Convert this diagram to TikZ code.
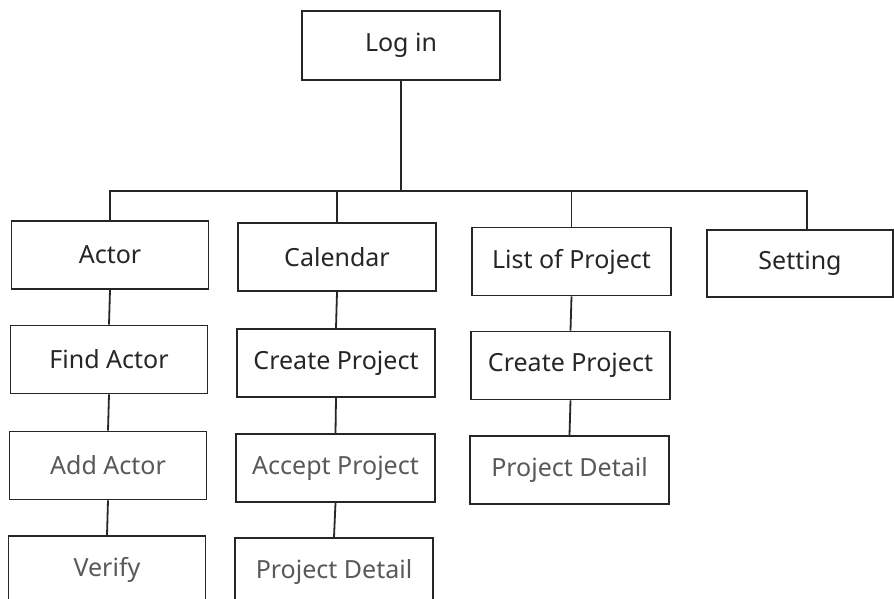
\documentclass[tikz,border=0pt]{standalone}
\usepackage{fontspec}
\setmainfont{Noto Sans}
\begin{document}
\begin{tikzpicture}[x=1pt,y=-1pt,
  box/.style={draw=black!85, line width=1.8pt, minimum width=197pt, minimum height=68pt,
    inner sep=0pt, font=\fontsize{25}{28}\selectfont, text=black!85},
  faint/.style={text=black!65},
  link/.style={draw=black!85, line width=1.8pt}]
\useasboundingbox (0,0) rectangle (894,599);
\clip (0,0) rectangle (894,599);
\fill[white] (0,0) rectangle (894,599);
% nodes
\node[box, minimum width=198pt, minimum height=69pt] (login) at (401,45.5) {Log in};
\node[box] (actor) at (110,255) {Actor};
\node[box, minimum width=198pt] (calendar) at (337,257) {Calendar};
\node[box, minimum width=199pt] (list) at (571.5,261.5) {List of Project};
\node[box, minimum width=186pt, minimum height=67pt] (setting) at (800,263.5) {Setting};
\node[box] (find) at (109,359.5) {Find Actor};
\node[box, minimum width=198pt] (create1) at (336,363) {Create Project};
\node[box, minimum width=199pt] (create2) at (570.5,365.5) {Create Project};
\node[box, faint] (add) at (108,465.5) {Add Actor};
\node[box, faint, minimum width=199pt] (accept) at (335.5,468) {Accept Project};
\node[box, faint, minimum width=199pt] (detail2) at (569.5,470) {Project Detail};
\node[box, faint] (verify) at (107,570) {Verify};
\node[box, faint, minimum width=198pt] (detail1) at (334,572) {Project Detail};
\coordinate (bus) at (0,191);
% connectors
\draw[link] (login.south) -- (login.south |- bus);
\draw[link] (actor.north) -- (actor.north |- bus) -- ([xshift=7pt]setting.north |- bus) -- ([xshift=7pt]setting.north);
\draw[link] (calendar.north) -- (calendar.north |- bus);
\draw[link] (list.north) -- (list.north |- bus);
\draw[link] (actor.south) -- (find.north);
\draw[link] (find.south) -- (add.north);
\draw[link] (add.south) -- (verify.north);
\draw[link] (calendar.south) -- (create1.north);
\draw[link] (create1.south) -- (accept.north);
\draw[link] (accept.south) -- (detail1.north);
\draw[link] (list.south) -- (create2.north);
\draw[link] (create2.south) -- (detail2.north);
\end{tikzpicture}
\end{document}
